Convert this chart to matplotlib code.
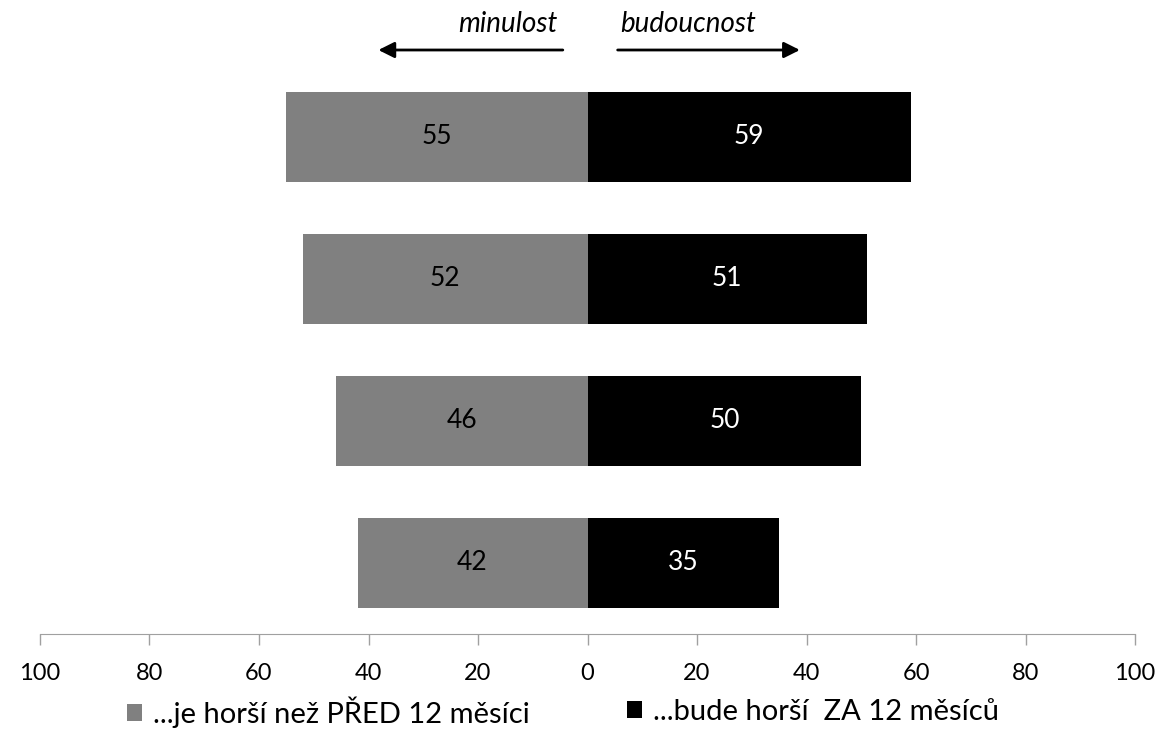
import numpy as np
import matplotlib
matplotlib.use("Agg")
import matplotlib.pyplot as plt
import matplotlib.transforms as mtransforms
from matplotlib.patches import Patch

plt.rcParams['font.family'] = ['Lato', 'DejaVu Sans']

# share of respondents, rows from top to bottom
past = [55, 52, 46, 42]
future = [59, 51, 50, 35]
past_label = "...je horší než PŘED 12 měsíci"
future_label = "...bude horší  ZA 12 měsíců"
ticks = [-100, -80, -60, -40, -20, 0, 20, 40, 60, 80, 100]

gray = "#808080"
fig = plt.figure(figsize=(11.73, 7.41), dpi=100)
ax = fig.add_axes([40/1173, 1-634/741, 1095/1173, 568/741])

y = np.arange(len(past))
h = 0.627
ax.barh(y, -np.array(past), height=h, color=gray)
ax.barh(y, future, height=h, color="black")

for i in range(len(past)):
    ax.text(-past[i]/2, y[i], str(past[i]), ha="center", va="center",
            fontsize=19, color="black")
    ax.text(future[i]/2, y[i], str(future[i]), ha="center", va="center",
            fontsize=19, color="white")

ax.set_xlim(-100, 100)
ax.set_ylim(3.5, -0.5)
ax.set_xticks(ticks)
ax.set_xticklabels([str(abs(t)) for t in ticks], fontsize=17)
ax.set_yticks([])
for s in ["top", "left", "right"]:
    ax.spines[s].set_visible(False)
ax.spines["bottom"].set_color("#a0a0a0")
ax.tick_params(axis="x", colors="#a0a0a0", length=8, width=1, pad=13,
               labelcolor="black")

# direction arrows above the bars (x in data, y in figure fraction)
trans = mtransforms.blended_transform_factory(ax.transData, fig.transFigure)
arrow_y = 1 - 50/741
for tip, tail in [(-38.7, -4), (39.3, 5)]:
    ax.annotate("", xy=(tip, arrow_y), xytext=(tail, arrow_y),
                xycoords=trans, textcoords=trans,
                arrowprops=dict(arrowstyle="-|>", color="black", lw=2,
                                mutation_scale=24))
ax.text(-5.5, 1 - 24/741, "minulost", transform=trans, ha="right",
        va="center", fontsize=20, style="italic")
ax.text(6, 1 - 24/741, "budoucnost", transform=trans, ha="left",
        va="center", fontsize=20, style="italic")

# two legend entries, each placed on its own
for lbl, col, x0 in [(past_label, gray, 127), (future_label, "black", 627)]:
    fig.legend([Patch(facecolor=col)], [lbl], loc="center left",
               bbox_to_anchor=(x0/1173, 1 - 712/741), frameon=False,
               fontsize=21, handlelength=0.5, handleheight=0.5,
               handletextpad=0.4, borderpad=0, borderaxespad=0)

fig.savefig("out.png", dpi=100)
